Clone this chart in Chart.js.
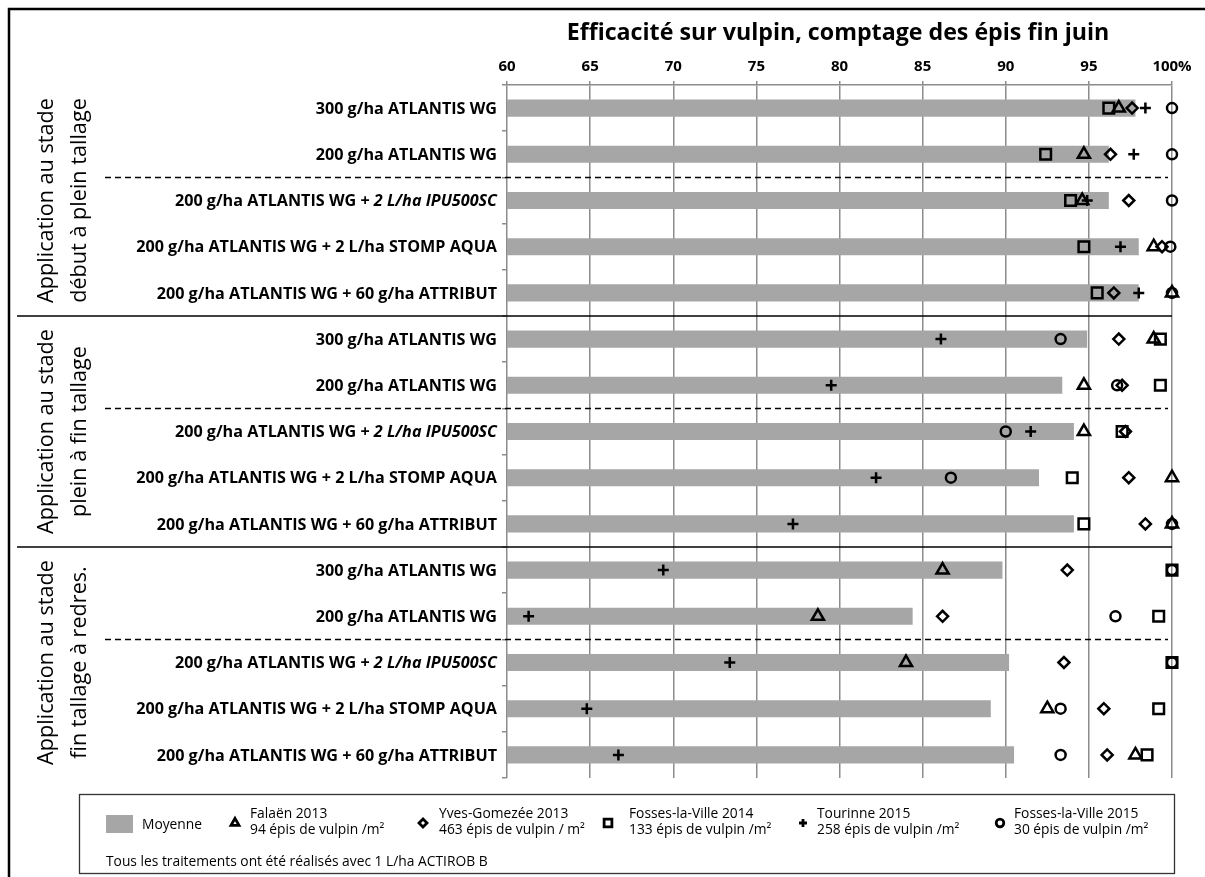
<!DOCTYPE html>
<html lang="fr">
<head>
<meta charset="utf-8">
<title>Efficacité sur vulpin, comptage des épis fin juin</title>
<script src="https://cdn.jsdelivr.net/npm/chart.js@4.4.1/dist/chart.umd.min.js"></script>
<style>
  html, body { margin: 0; padding: 0; background: #fff; }
  canvas { display: block; }
</style>
</head>
<body>
<canvas id="chart" width="1205" height="877"></canvas>
<script>
// treatments, top to bottom (3 stages x 5 treatments)
const treatments = [
  '300 g/ha ATLANTIS WG',
  '200 g/ha ATLANTIS WG',
  '200 g/ha ATLANTIS WG + 2 L/ha IPU500SC',
  '200 g/ha ATLANTIS WG + 2 L/ha STOMP AQUA',
  '200 g/ha ATLANTIS WG + 60 g/ha ATTRIBUT',
  '300 g/ha ATLANTIS WG',
  '200 g/ha ATLANTIS WG',
  '200 g/ha ATLANTIS WG + 2 L/ha IPU500SC',
  '200 g/ha ATLANTIS WG + 2 L/ha STOMP AQUA',
  '200 g/ha ATLANTIS WG + 60 g/ha ATTRIBUT',
  '300 g/ha ATLANTIS WG',
  '200 g/ha ATLANTIS WG',
  '200 g/ha ATLANTIS WG + 2 L/ha IPU500SC',
  '200 g/ha ATLANTIS WG + 2 L/ha STOMP AQUA',
  '200 g/ha ATLANTIS WG + 60 g/ha ATTRIBUT'
];
const italicPart = '2 L/ha IPU500SC';
const stages = [
  ['Application au stade', 'début à plein tallage'],
  ['Application au stade', 'plein à fin tallage'],
  ['Application au stade', 'fin tallage à redres.']
];
const xTicks = [60, 65, 70, 75, 80, 85, 90, 95, 100];

const moyenne     = [97.8, 96.2, 96.2, 98.0, 98.0, 94.9, 93.4, 94.1, 92.0, 94.1, 89.8, 84.4, 90.2, 89.1, 90.5];
const falaen2013  = [96.8, 94.7, 94.6, 98.9, 100, 98.9, 94.7, 94.7, 100, 100, 86.2, 78.7, 84.0, 92.5, 97.8];
const yves2013    = [97.6, 96.3, 97.4, 99.4, 96.5, 96.8, 97.0, 97.2, 97.4, 98.4, 93.7, 86.2, 93.5, 95.9, 96.1];
const fosses2014  = [96.2, 92.4, 93.9, 94.7, 95.5, 99.3, 99.3, 97.0, 94.0, 94.7, 100, 99.2, 100, 99.2, 98.5];
const tourinne2015 = [98.4, 97.7, 94.9, 96.9, 98.0, 86.1, 79.5, 91.5, 82.2, 77.2, 69.4, 61.3, 73.4, 64.8, 66.7];
const fosses2015  = [100, 100, 100, 99.9, 100, 93.3, 96.7, 90.0, 86.7, 100, 100, 96.6, 100, 93.3, 93.3];

const densities = [
  '94 épis de vulpin /m²',
  '463 épis de vulpin / m²',
  '133 épis de vulpin /m²',
  '258 épis de vulpin /m²',
  '30 épis de vulpin /m²'
];
const footnote = 'Tous les traitements ont été réalisés avec 1 L/ha ACTIROB B';
const chartTitle = 'Efficacité sur vulpin, comptage des épis fin juin';

const FONT = '"Open Sans", "DejaVu Sans", sans-serif';
const GRID = '#8c8c8c';

function markers(label, data, style, radius) {
  return {
    type: 'line',
    label: label,
    data: data,
    indexAxis: 'y',
    showLine: false,
    clip: false,
    order: 1,
    pointStyle: style,
    pointRadius: radius,
    pointHoverRadius: radius,
    pointBorderWidth: 2.5,
    pointBorderColor: '#000',
    pointBackgroundColor: 'rgba(0,0,0,0)',
    borderColor: '#000',
    backgroundColor: 'rgba(0,0,0,0)'
  };
}

// size a font so that text fills a given width
function fitSize(ctx, text, prefix, width) {
  ctx.font = prefix + ' 100px ' + FONT;
  return 100 * width / ctx.measureText(text).width;
}

function drawMarker(ctx, style, radius, x, y) {
  const opts = { pointStyle: style, radius: radius, borderWidth: 2.8, rotation: 0 };
  if (Chart.helpers && Chart.helpers.drawPoint) {
    Chart.helpers.drawPoint(ctx, opts, x, y);
  } else {
    ctx.beginPath();
    ctx.arc(x, y, radius, 0, Math.PI * 2);
    ctx.fill();
    ctx.stroke();
  }
}

const decor = {
  id: 'decor',
  afterDraw(chart) {
    const { ctx, chartArea: area, scales: { y } } = chart;
    const rowY = i => y.getPixelForValue(i);
    const band = rowY(1) - rowY(0);
    const edge = i => rowY(i) - band / 2;

    ctx.save();
    ctx.fillStyle = '#000';

    // title
    const ts = fitSize(ctx, chartTitle, 'bold', 543);
    ctx.font = 'bold ' + ts + 'px ' + FONT;
    ctx.textAlign = 'center';
    ctx.textBaseline = 'middle';
    ctx.fillText(chartTitle, 838, 33);

    // treatment labels (right aligned, with italic product)
    const ls = fitSize(ctx, treatments[3], 'bold', 361);
    ctx.textAlign = 'left';
    treatments.forEach((label, i) => {
      let parts = [[label, false]];
      const k = label.indexOf(italicPart);
      if (k >= 0) parts = [[label.slice(0, k), false], [italicPart, true]];
      let x = 497;
      for (let p = parts.length - 1; p >= 0; p--) {
        ctx.font = (parts[p][1] ? 'italic ' : '') + 'bold ' + ls + 'px ' + FONT;
        const w = ctx.measureText(parts[p][0]).width;
        ctx.fillText(parts[p][0], x - w, rowY(i) + 1);
        x -= w;
      }
    });

    // stage labels, rotated
    const gs = fitSize(ctx, stages[0][0], 'normal', 205);
    ctx.font = gs + 'px ' + FONT;
    ctx.textAlign = 'center';
    stages.forEach((lines, g) => {
      const cy = (edge(g * 5) + edge(g * 5 + 5)) / 2;
      lines.forEach((t, j) => {
        ctx.save();
        ctx.translate(47 + j * 33, cy);
        ctx.rotate(-Math.PI / 2);
        ctx.fillText(t, 0, 0);
        ctx.restore();
      });
    });

    // separators
    ctx.strokeStyle = '#000';
    ctx.lineWidth = 1.5;
    [5, 10].forEach(i => {
      ctx.beginPath();
      ctx.moveTo(17, edge(i));
      ctx.lineTo(area.right, edge(i));
      ctx.stroke();
    });
    ctx.setLineDash([6, 4]);
    [2, 7, 12].forEach(i => {
      ctx.beginPath();
      ctx.moveTo(105, edge(i));
      ctx.lineTo(area.right - 4, edge(i));
      ctx.stroke();
    });
    ctx.setLineDash([]);

    // outer frame
    ctx.lineWidth = 2.5;
    ctx.beginPath();
    ctx.moveTo(9, 900);
    ctx.lineTo(9, 9);
    ctx.lineTo(1210, 9);
    ctx.stroke();

    // legend box
    ctx.lineWidth = 1.3;
    ctx.strokeStyle = '#333';
    ctx.strokeRect(79.5, 794.5, 1095, 79);
    ctx.fillStyle = '#a6a6a6';
    ctx.fillRect(106, 815, 27, 18);
    ctx.fillStyle = '#000';
    ctx.font = '13.8px ' + FONT;
    ctx.textAlign = 'left';
    ctx.textBaseline = 'middle';
    ctx.fillText(chart.data.datasets[0].label, 142, 825);

    const slots = [[235, 250], [423, 439], [608, 629], [803, 817], [1000, 1014]];
    const legendRadius = { triangle: 4.6, rectRot: 4, rect: 5.5, cross: 4, circle: 3.8 };
    chart.data.datasets.slice(1).forEach((ds, k) => {
      const [mx, tx] = slots[k];
      ctx.strokeStyle = '#000';
      ctx.fillStyle = '#fff';
      ctx.lineWidth = 2.8;
      drawMarker(ctx, ds.pointStyle, legendRadius[ds.pointStyle], mx, 823);
      ctx.fillStyle = '#000';
      ctx.fillText(ds.label, tx, 814);
      ctx.fillText(densities[k], tx, 830);
    });
    ctx.fillText(footnote, 106, 862);

    ctx.restore();
  }
};

new Chart(document.getElementById('chart'), {
  data: {
    labels: treatments,
    datasets: [
      {
        type: 'bar',
        label: 'Moyenne',
        data: moyenne,
        indexAxis: 'y',
        backgroundColor: '#a6a6a6',
        barPercentage: 0.37,
        categoryPercentage: 1,
        order: 10
      },
      markers('Falaën 2013', falaen2013, 'triangle', 7),
      markers('Yves-Gomezée 2013', yves2013, 'rectRot', 5.5),
      markers('Fosses-la-Ville 2014', fosses2014, 'rect', 7.5),
      markers('Tourinne 2015', tourinne2015, 'cross', 5.5),
      markers('Fosses-la-Ville 2015', fosses2015, 'circle', 5)
    ]
  },
  options: {
    indexAxis: 'y',
    responsive: false,
    animation: false,
    layout: { padding: { top: 0, right: 33, bottom: 99, left: 0 } },
    plugins: {
      legend: { display: false },
      tooltip: { enabled: false }
    },
    scales: {
      x: {
        type: 'linear',
        position: 'top',
        min: 60,
        max: 100,
        afterFit: s => { s.height = 85; },
        afterBuildTicks: s => { s.ticks = xTicks.map(v => ({ value: v })); },
        ticks: {
          color: '#000',
          padding: 5,
          font: { family: FONT, size: 15, weight: 'bold' },
          callback: v => v === 100 ? '100%' : v
        },
        grid: { color: GRID, lineWidth: 1.5, tickLength: 4 },
        border: { color: GRID, width: 1.5 }
      },
      y: {
        type: 'category',
        position: 'left',
        afterFit: s => { s.width = 507; },
        ticks: { display: false },
        grid: { drawOnChartArea: false, tickLength: 5, color: GRID, lineWidth: 1.5, offset: true },
        border: { display: false }
      }
    }
  },
  plugins: [decor]
});
</script>
</body>
</html>
